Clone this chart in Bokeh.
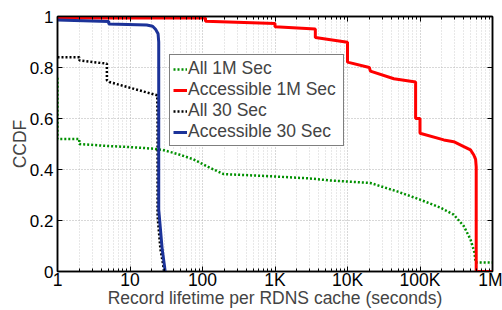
from bokeh.plotting import figure
from bokeh.models import (FixedTicker, LogAxis, LinearAxis, Legend, LegendItem, Range1d)
from bokeh.embed import file_html
from bokeh.resources import INLINE

# ---- data ----
all_1m_x = [1, 1, 2, 2, 5, 10, 20, 28, 45, 75, 120, 195, 400, 950, 3000, 5800,
            20700, 48400, 100000, 192000, 292000, 402000, 497000, 565000, 583000, 1000000]
all_1m_y = [0.76, 0.52, 0.52, 0.500, 0.492, 0.488, 0.482, 0.477, 0.461, 0.44, 0.41, 0.382,
            0.378, 0.373, 0.365, 0.357, 0.347, 0.314, 0.282, 0.25, 0.223, 0.178, 0.126,
            0.074, 0.035, 0.035]

acc_1m_x = [1, 110, 110, 1000, 1000, 3600, 3600, 10000, 10000, 20000, 20700, 43600,
            87000, 87000, 100000, 100000, 213000, 292000, 402000, 497000, 552000,
            585000, 596000, 596000, 1000000]
acc_1m_y = [0.994, 0.994, 0.981, 0.973, 0.960, 0.951, 0.918, 0.899, 0.821, 0.80, 0.786,
            0.756, 0.743, 0.60, 0.60, 0.542, 0.516, 0.509, 0.49, 0.477, 0.457, 0.44,
            0.41, 0.0, 0.0]

all_30_x = [1, 2, 2, 4.8, 4.8, 5.2, 23.7, 24.0, 24.0, 26.3, 28.6, 29.5]
all_30_y = [0.84, 0.84, 0.828, 0.815, 0.75, 0.743, 0.691, 0.60, 0.217, 0.087, 0.028, 0.0]

acc_30_x = [1, 5.1, 5.1, 17, 20.5, 22.5, 24.4, 24.9, 24.9, 27.8, 29.9, 30.5]
acc_30_y = [0.986, 0.98, 0.971, 0.967, 0.962, 0.95, 0.932, 0.90, 0.243, 0.087, 0.022, 0.0]

series_names = ["All 1M Sec", "Accessible 1M Sec", "All 30 Sec", "Accessible 30 Sec"]

x_ticks = [1, 10, 100, 1000, 10000, 100000, 1000000]
x_tick_labels = ["1", "10", "100", "1K", "10K", "100K", "1M"]
y_ticks = [0, 0.2, 0.4, 0.6, 0.8, 1.0]
y_tick_labels = ["0", "0.2", "0.4", "0.6", "0.8", "1"]

FONT = "Liberation Sans"

p = figure(width=502, height=310, x_axis_type="log",
           x_range=Range1d(1, 1e6), y_range=Range1d(0, 1),
           output_backend="svg", toolbar_location=None,
           min_border_left=57, min_border_right=10, min_border_top=16, min_border_bottom=38)
p.background_fill_color = "white"
p.border_fill_color = "white"
p.outline_line_color = "black"
p.outline_line_width = 1.5

minor = [m * 10 ** k for k in range(6) for m in range(2, 10)]
xt = FixedTicker(ticks=x_ticks, minor_ticks=minor)
yt = FixedTicker(ticks=y_ticks)

# grids
p.xgrid.ticker = xt
p.ygrid.ticker = yt
for g in (p.xgrid[0], p.ygrid[0]):
    g.grid_line_color = "#b0b0b0"
    g.grid_line_dash = "1 2"
    g.grid_line_width = 1
p.xgrid.minor_grid_line_color = "#d0d0d0"
p.xgrid.minor_grid_line_dash = "1 2"

def style_axis(ax, labels=True):
    ax.axis_line_color = "black"
    ax.axis_line_width = 1.5
    ax.major_tick_in = 5
    ax.major_tick_out = 0
    ax.minor_tick_in = 3
    ax.minor_tick_out = 0
    ax.major_tick_line_color = "black"
    ax.minor_tick_line_color = "black"
    ax.major_label_text_font = FONT
    ax.major_label_text_color = "black"
    if not labels:
        ax.major_label_text_font_size = "1px"
        ax.major_label_text_alpha = 0
        ax.major_label_standoff = 0

xa = p.xaxis[0]
xa.ticker = xt
xa.major_label_overrides = dict(zip(x_ticks, x_tick_labels))
style_axis(xa)
xa.major_label_text_font_size = "17.5px"
xa.major_label_standoff = -2
xa.axis_label = "Record lifetime per RDNS cache (seconds)"
xa.axis_label_text_font = FONT
xa.axis_label_text_font_size = "17.5px"
xa.axis_label_text_font_style = "normal"
xa.axis_label_standoff = -5

ya = p.yaxis[0]
ya.ticker = yt
ya.major_label_overrides = dict(zip(y_ticks, y_tick_labels))
style_axis(ya)
ya.minor_tick_in = 0
ya.major_label_text_font_size = "17px"
ya.major_label_standoff = 4
ya.axis_label = "CCDF"
ya.axis_label_text_font = FONT
ya.axis_label_text_font_size = "17.5px"
ya.axis_label_text_font_style = "normal"
ya.axis_label_standoff = -3

top = LogAxis(ticker=xt)
style_axis(top, labels=False)
p.add_layout(top, "above")
right = LinearAxis(ticker=yt)
style_axis(right, labels=False)
right.minor_tick_in = 0
p.add_layout(right, "right")

r1 = p.line(all_1m_x, all_1m_y, line_color="#009000", line_width=2.5, line_dash="2 2")
r2 = p.line(acc_1m_x, acc_1m_y, line_color="#ff0000", line_width=3)
r3 = p.line(all_30_x, all_30_y, line_color="black", line_width=2.5, line_dash="2 2")
r4 = p.line(acc_30_x, acc_30_y, line_color="#1c3399", line_width=3)

legend = Legend(items=[LegendItem(label=n, renderers=[r]) for n, r in zip(series_names, [r1, r2, r3, r4])],
                location=(112, 125))
legend.label_text_font = FONT
legend.label_text_font_size = "17.5px"
legend.glyph_width = 14
legend.glyph_height = 20
legend.label_height = 20
legend.label_width = 152
legend.label_standoff = 1
legend.padding = 3
legend.spacing = 0
legend.margin = 0
legend.border_line_color = "black"
legend.border_line_width = 1.5
legend.background_fill_alpha = 1
p.add_layout(legend)

open("out.html", "w").write(file_html(p, INLINE))
